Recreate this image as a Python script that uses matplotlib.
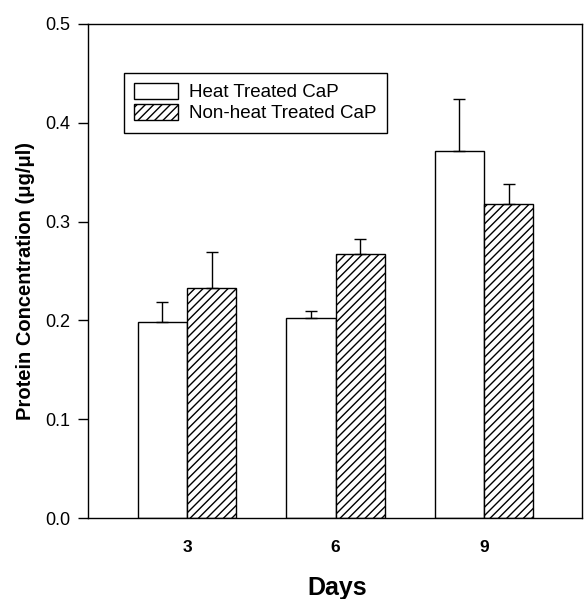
import numpy as np
import matplotlib.pyplot as plt

plt.rcParams['font.family'] = ['Liberation Sans', 'DejaVu Sans']
plt.rcParams['hatch.linewidth'] = 1.0

days = ['3', '6', '9']
heat = [0.198, 0.202, 0.371]
heat_err = [0.021, 0.008, 0.053]
nonheat = [0.233, 0.267, 0.318]
nonheat_err = [0.036, 0.015, 0.020]

fig = plt.figure(figsize=(5.84, 5.99), dpi=100)
ax = fig.add_axes([0.1507, 0.1352, 0.8459, 0.8248])

x = np.arange(len(days))
w = 0.332
zeros = [0, 0, 0]

ax.bar(x - w / 2, heat, w, color='white', edgecolor='black', linewidth=1.0,
       label='Heat Treated CaP')
ax.bar(x + w / 2, nonheat, w, color='white', edgecolor='black', linewidth=1.0,
       hatch='////', label='Non-heat Treated CaP')
ax.errorbar(x - w / 2, heat, yerr=[zeros, heat_err], fmt='none', ecolor='black',
            elinewidth=1.0, capsize=4, capthick=1.0)
ax.errorbar(x + w / 2, nonheat, yerr=[zeros, nonheat_err], fmt='none', ecolor='black',
            elinewidth=1.0, capsize=4, capthick=1.0)

ax.set_xlim(-0.667, 2.66)
ax.set_ylim(0, 0.5)
ax.set_yticks([0.0, 0.1, 0.2, 0.3, 0.4, 0.5])
ax.set_yticklabels(['0.0', '0.1', '0.2', '0.3', '0.4', '0.5'], fontsize=13)
ax.set_xticks(x)
ax.set_xticklabels(days, fontsize=12.5, fontweight='bold')
ax.tick_params(axis='x', length=0, pad=16)
ax.tick_params(axis='y', length=7, width=1.0, direction='out', pad=6)
for s in ax.spines.values():
    s.set_linewidth(1.0)

ax.set_ylabel('Protein Concentration (\u03bcg/\u03bcl)', fontsize=14.5, fontweight='bold')
ax.yaxis.set_label_coords(-0.108, 0.48)
fig.text(0.578, 4 / 599, 'Days', fontsize=18, fontweight='bold', ha='center', va='baseline')

leg = ax.legend(loc='upper left', bbox_to_anchor=(0.073, 0.901), borderaxespad=0,
                fontsize=13.5, frameon=True, fancybox=False, edgecolor='black',
                framealpha=1, handlelength=2.3, handleheight=0.9, labelspacing=0.15,
                borderpad=0.55, handletextpad=0.6)
leg.get_frame().set_linewidth(1.0)

fig.savefig('out.png', dpi=100)
